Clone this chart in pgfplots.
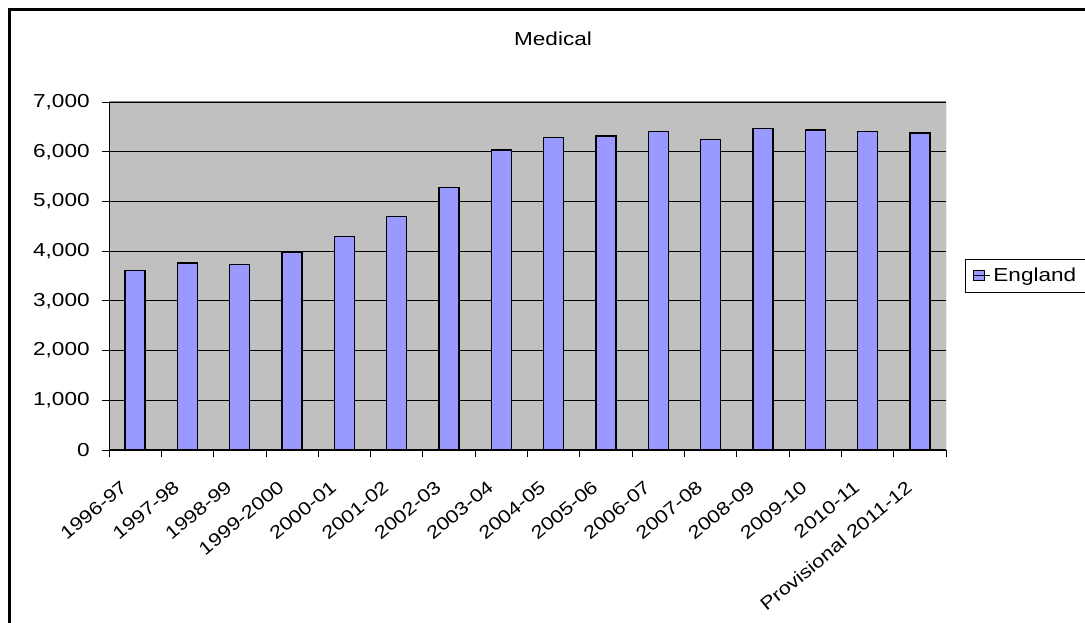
\documentclass[border=0pt]{standalone}
\usepackage{fontspec}
\setmainfont[FakeStretch=1.2]{Liberation Sans}
\usepackage{pgfplots}
\pgfplotsset{compat=1.18}
\definecolor{barfill}{HTML}{9999FF}
\definecolor{plotbg}{HTML}{C0C0C0}
\begin{document}
\begin{tikzpicture}[x=0.75pt,y=0.75pt]
\useasboundingbox (0,0) rectangle (1085,623);
\draw[line width=1.7pt] (9.5,613.5) rectangle (1110,-30);
\node[font=\fontsize{14.1}{16}\selectfont] at (553,584) {Medical};
\begin{axis}[
  at={(81.75pt,129.75pt)}, anchor=south west,
  scale only axis, width=627.75pt, height=261pt,
  xmin=-0.5, xmax=15.5, ymin=0, ymax=7000,
  ytick={0,1000,...,7000},
  xtick={-0.5,0.5,...,15.5},
  xticklabels={1996-97,1997-98,1998-99,1999-2000,2000-01,2001-02,2002-03,2003-04,2004-05,2005-06,2006-07,2007-08,2008-09,2009-10,2010-11,Provisional 2011-12},
  x tick label as interval,
  xticklabel style={xshift=-11.25pt, yshift=-17pt, rotate=39.8, anchor=north east, font=\fontsize{13.6}{15}\selectfont, inner sep=0pt},
  yticklabel style={font=\fontsize{14.1}{16}\selectfont, xshift=-6pt},
  /pgf/number format/.cd, 1000 sep={,}, assume math mode=true, /pgfplots/.cd,
  axis background/.style={fill=plotbg},
  ymajorgrids, grid style={black, line width=0.6pt},
  tick align=outside, major tick length=5pt,
  tick style={black, line width=0.6pt},
  axis x line*=bottom, axis y line*=left,
  axis line style={-, black, line width=0.75pt},
  ybar, bar width=15pt,
  legend style={at={(1.0227,0.5014)}, anchor=west, draw=black, line width=0.6pt, fill=white,
    font=\fontsize{14.1}{16}\selectfont, inner xsep=5.5pt, inner ysep=4.5pt, nodes={inner sep=2pt}},
  legend image code/.code={\draw[fill=barfill,draw=black,line width=0.75pt] (0pt,-4.1pt) rectangle (8.25pt,4.1pt); \path (0pt,0pt) -- (12.5pt,0pt);},
]
\addplot[fill=barfill, draw=black, line width=1pt] coordinates {
(0,3607) (1,3762) (2,3735) (3,3977) (4,4291) (5,4693) (6,5284) (7,6034)
(8,6283) (9,6316) (10,6410) (11,6249) (12,6463) (13,6437) (14,6403) (15,6376)};
\addlegendentry{England}
\draw[gray, line width=0.75pt] (rel axis cs:0,1) -- (rel axis cs:1,1) -- (rel axis cs:1,0);
\end{axis}
\end{tikzpicture}
\end{document}
